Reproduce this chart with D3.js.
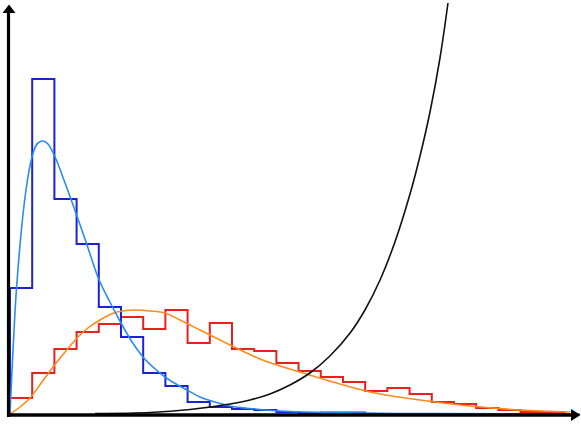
<!DOCTYPE html>
<html>
<head>
<meta charset="utf-8">
<script src="https://cdn.jsdelivr.net/npm/d3@7/dist/d3.min.js"></script>
<style>
  html, body { margin: 0; padding: 0; background: #fff; }
  svg { display: block; }
</style>
</head>
<body>
<svg id="chart" width="581" height="425"></svg>
<script>
// ---- data (x in bin units, y in counts) ----
const blueCounts = [126, 335, 215, 170, 107, 77, 41, 28, 12, 7, 5, 4, 2, 1, 1.5, 1.5, 0, 0, 0, 0, 0, 0, 0, 0, 0];
const redCounts  = [16, 41, 65, 82, 90, 97, 85, 104, 71, 91, 65, 63, 51, 43, 37, 32, 23, 26, 20, 12, 10, 6, 4, 2, 1];

const blueCurveX = [0, 0.09, 0.23, 0.45, 0.72, 0.99, 1.26, 1.49, 1.71, 2.03, 2.48, 2.97, 3.47, 3.96, 4.50, 5.00, 5.50, 5.99, 6.49, 6.98, 7.48, 7.97, 8.56, 9.23, 9.91, 11.04, 12.16, 14.41, 17.57, 25.68];
const blueCurveY = [0, 44, 104, 169, 224, 257, 271, 273, 270, 257, 231, 201, 169, 137, 112, 91, 72, 57, 46, 37, 30, 24, 17, 12, 8, 5, 3, 1.5, 0.5, 0];

const orangeCurveX = [0, 0.45, 0.90, 1.44, 1.94, 2.48, 3.02, 3.51, 4.05, 4.82, 5.63, 6.31, 6.98, 7.66, 8.56, 9.91, 11.26, 13.06, 14.55, 16.22, 18.47, 20.72, 23.0, 25.23];
const orangeCurveY = [0, 7, 16, 32, 47, 62, 76, 86, 94, 102, 104, 103, 101, 94, 84, 69, 55, 42, 32, 22, 14, 8, 4, 2];

const blackCurveX = [3.83, 6.31, 8.11, 9.91, 10.81, 11.71, 12.61, 13.51, 14.41, 15.32, 15.99, 16.67, 17.34, 18.02, 18.47, 18.92, 19.37, 19.73];
const blackCurveY = [0.5, 1.5, 4.5, 10, 14, 20, 29, 41, 58, 81, 104, 134, 172, 220, 258, 302, 356, 411];

// ---- scales ----
const x = d3.scaleLinear().domain([0, 25.7]).range([10, 580.5]);
const y = d3.scaleLinear().domain([0, 414]).range([414, 0]);

const svg = d3.select("#chart");

function stepPath(counts) {
  const pts = [[0, 0]];
  counts.forEach((c, i) => pts.push([i, c]));
  pts.push([counts.length, counts[counts.length - 1]]);
  pts.push([counts.length, 0]);
  return d3.line().x(d => x(d[0])).y(d => y(d[1])).curve(d3.curveStepAfter)(pts);
}
function curvePath(xs, ys, curve) {
  const pts = xs.map((v, i) => [v, ys[i]]);
  return d3.line().x(d => x(d[0])).y(d => y(d[1])).curve(curve || d3.curveMonotoneX)(pts);
}

// histograms
svg.append("path").attr("d", stepPath(redCounts))
  .attr("fill", "none").attr("stroke", "#e8211c").attr("stroke-width", 2);
svg.append("path").attr("d", stepPath(blueCounts))
  .attr("fill", "none").attr("stroke", "#1c22d2").attr("stroke-width", 2);

// fitted curves
svg.append("path").attr("d", curvePath(orangeCurveX, orangeCurveY))
  .attr("fill", "none").attr("stroke", "#ff8a1c").attr("stroke-width", 1.6);
svg.append("path").attr("d", curvePath(blueCurveX, blueCurveY))
  .attr("fill", "none").attr("stroke", "#2a8cf2").attr("stroke-width", 1.6);
svg.append("path").attr("d", curvePath(blackCurveX, blackCurveY, d3.curveCatmullRom))
  .attr("fill", "none").attr("stroke", "#111").attr("stroke-width", 1.6);

// axes with arrowheads
const ax = svg.append("g");
ax.append("line").attr("x1", 8.5).attr("y1", 417).attr("x2", 8.5).attr("y2", 10)
  .attr("stroke", "#000").attr("stroke-width", 3.2);
ax.append("path").attr("d", "M2.5,13 L9,4.5 L15.5,13 Z").attr("fill", "#000");
ax.append("line").attr("x1", 7).attr("y1", 415).attr("x2", 572).attr("y2", 415)
  .attr("stroke", "#000").attr("stroke-width", 3.6);
ax.append("path").attr("d", "M571,409 L580.5,415 L571,421 Z").attr("fill", "#000");
</script>
</body>
</html>
